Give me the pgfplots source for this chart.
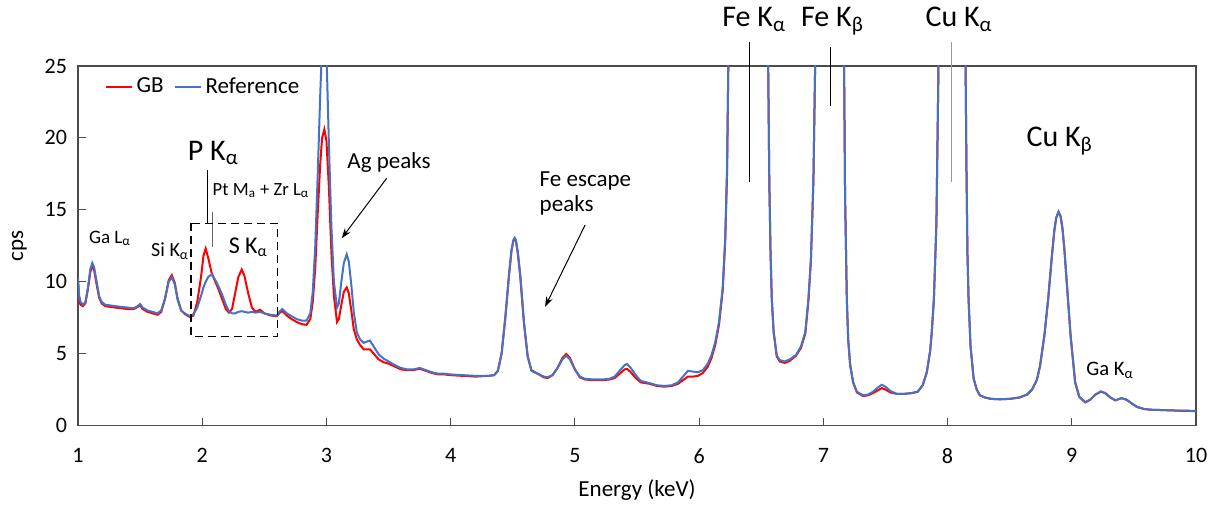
\documentclass[border=0pt]{standalone}
\usepackage{pgfplots}
\pgfplotsset{compat=1.18}
\usepackage{pgfplotstable}
\usepackage{fontspec}
\setmainfont{Carlito}
\usetikzlibrary{arrows.meta}
\definecolor{refblue}{HTML}{4472C4}

\pgfplotstableread{
E GB Ref
1.000 10.0 10.3
1.010 8.7 9.0
1.020 8.4 8.6
1.040 8.3 8.4
1.060 8.5 8.6
1.080 9.5 9.6
1.100 10.7 10.9
1.115 11.1 11.3
1.130 10.8 11.0
1.150 9.8 10.0
1.170 8.9 9.0
1.190 8.5 8.6
1.220 8.3 8.4
1.260 8.25 8.35
1.300 8.2 8.3
1.350 8.15 8.25
1.400 8.1 8.2
1.450 8.1 8.15
1.480 8.25 8.3
1.500 8.35 8.45
1.520 8.1 8.2
1.560 7.9 8.0
1.600 7.8 7.9
1.640 7.7 7.8
1.670 7.9 8.0
1.700 8.8 8.8
1.730 10.1 10.0
1.755 10.45 10.3
1.780 9.9 9.8
1.800 8.9 8.8
1.830 8.0 8.0
1.860 7.75 7.8
1.900 7.55 7.6
1.930 7.65 7.75
1.960 8.6 8.2
1.990 10.3 9.0
2.010 11.8 9.6
2.028 12.3 10.0
2.050 11.6 10.35
2.076 10.6 10.5
2.100 10.1 10.2
2.130 9.5 9.7
2.160 8.8 9.1
2.190 8.1 8.4
2.215 7.85 7.95
2.240 8.1 7.8
2.265 9.2 7.8
2.290 10.3 7.9
2.318 10.85 7.95
2.340 10.4 7.9
2.370 9.2 7.85
2.400 8.2 7.9
2.430 7.9 7.85
2.465 8.05 7.9
2.500 7.8 7.8
2.550 7.65 7.7
2.600 7.6 7.65
2.625 7.85 7.95
2.645 7.95 8.1
2.680 7.65 7.8
2.720 7.4 7.6
2.760 7.2 7.4
2.800 7.05 7.3
2.840 7.0 7.3
2.870 7.4 7.8
2.890 8.6 9.3
2.910 11.0 12.5
2.930 14.8 17.5
2.950 18.2 23.0
2.965 20.0 26.5
2.983 20.6 28.0
3.000 19.8 26.0
3.020 16.5 19.5
3.040 12.0 13.8
3.060 9.0 10.0
3.085 7.2 8.2
3.100 7.4 8.5
3.120 8.4 10.0
3.140 9.3 11.3
3.163 9.6 11.9
3.180 9.2 11.4
3.200 8.0 9.8
3.220 6.7 7.9
3.244 6.0 6.5
3.270 5.6 6.0
3.300 5.3 5.75
3.330 5.3 5.85
3.350 5.3 5.9
3.380 5.0 5.5
3.420 4.6 4.95
3.460 4.4 4.65
3.500 4.3 4.45
3.550 4.1 4.2
3.600 3.9 4.0
3.650 3.85 3.9
3.700 3.85 3.9
3.750 3.95 4.0
3.800 3.8 3.85
3.850 3.65 3.7
3.900 3.55 3.6
3.950 3.55 3.6
4.000 3.5 3.55
4.100 3.45 3.5
4.200 3.4 3.45
4.300 3.45 3.45
4.350 3.5 3.5
4.380 3.8 3.8
4.410 5.0 5.0
4.440 7.5 7.5
4.470 10.5 10.5
4.490 12.2 12.2
4.505 12.85 12.9
4.515 13.0 13.05
4.525 12.85 12.9
4.540 12.0 12.1
4.560 10.4 10.5
4.590 7.1 7.2
4.620 4.8 4.8
4.650 3.85 3.8
4.700 3.6 3.6
4.750 3.35 3.4
4.780 3.3 3.35
4.820 3.5 3.5
4.860 4.0 4.0
4.900 4.7 4.6
4.930 4.97 4.85
4.960 4.7 4.6
5.000 3.9 3.9
5.040 3.35 3.4
5.080 3.2 3.25
5.150 3.15 3.2
5.220 3.15 3.2
5.280 3.2 3.25
5.320 3.3 3.4
5.360 3.6 3.8
5.400 3.9 4.2
5.420 3.94 4.28
5.450 3.7 4.0
5.490 3.3 3.5
5.530 3.0 3.1
5.600 2.9 2.95
5.660 2.75 2.8
5.720 2.7 2.75
5.780 2.75 2.8
5.830 2.9 3.0
5.870 3.15 3.4
5.910 3.4 3.8
5.950 3.4 3.75
5.990 3.45 3.7
6.030 3.65 3.85
6.070 4.1 4.3
6.100 4.7 4.9
6.130 5.6 5.8
6.160 7.0 7.2
6.190 9.4 9.6
6.210 12.8 13.0
6.225 17.5 18.0
6.235 25.0 25.0
6.250 50 50
6.300 150 150
6.400 200 200
6.500 150 150
6.540 50 50
6.556 25 25
6.565 17 17
6.575 12 12
6.585 8.8 8.8
6.600 6.5 6.5
6.625 4.8 4.86
6.650 4.45 4.55
6.690 4.35 4.45
6.730 4.5 4.6
6.780 4.85 4.9
6.820 5.4 5.5
6.855 6.4 6.5
6.880 8.7 8.8
6.900 11.5 11.5
6.920 17.0 17.0
6.934 25 25
6.950 50 50
7.050 100 100
7.150 50 50
7.167 25 25
7.175 16 16
7.189 8.8 8.8
7.200 6.0 6.0
7.216 4.2 4.2
7.240 3.0 3.0
7.270 2.3 2.35
7.320 2.05 2.1
7.360 2.1 2.15
7.400 2.25 2.35
7.440 2.45 2.65
7.470 2.6 2.83
7.500 2.5 2.7
7.540 2.3 2.4
7.590 2.2 2.2
7.650 2.2 2.2
7.710 2.25 2.25
7.760 2.35 2.35
7.800 2.8 2.8
7.833 3.7 3.7
7.860 5.2 5.2
7.873 6.5 6.5
7.890 8.8 8.8
7.910 14 14
7.927 25 25
7.950 60 60
8.040 200 200
8.130 60 60
8.145 25 25
8.152 18 18
8.160 12 12
8.169 8.8 8.8
8.185 5.5 5.5
8.210 3.25 3.25
8.235 2.5 2.5
8.260 2.1 2.1
8.300 1.95 1.95
8.350 1.85 1.85
8.420 1.82 1.83
8.500 1.85 1.85
8.580 1.95 1.95
8.640 2.15 2.15
8.680 2.5 2.5
8.720 3.2 3.2
8.745 4.17 4.17
8.780 6.3 6.3
8.810 8.8 8.8
8.840 11.8 11.8
8.860 13.6 13.6
8.875 14.45 14.45
8.893 14.85 14.87
8.910 14.55 14.55
8.925 13.7 13.7
8.940 12.3 12.3
8.960 9.9 9.9
8.990 6.3 6.3
9.027 3.0 3.0
9.060 2.0 2.0
9.108 1.6 1.63
9.150 1.8 1.8
9.190 2.15 2.15
9.234 2.35 2.37
9.270 2.25 2.25
9.310 1.95 1.95
9.350 1.75 1.75
9.400 1.9 1.9
9.440 1.8 1.8
9.480 1.55 1.55
9.524 1.3 1.29
9.580 1.15 1.15
9.630 1.1 1.1
9.700 1.08 1.08
9.800 1.05 1.05
9.900 1.02 1.03
10.00 1.0 1.02
}\spec

\begin{document}
\begin{tikzpicture}
\path[use as bounding box] (-39pt,-41.25pt) rectangle (571pt,212.75pt);
\begin{axis}[
  at={(0pt,0pt)}, anchor=south west,
  scale only axis, width=559pt, height=179.75pt,
  xmin=1, xmax=10, ymin=0, ymax=25,
  xtick={1,2,...,10}, ytick={0,5,...,25},
  tick align=inside, major tick length=4pt,
  xtick pos=lower, ytick pos=left,
  axis line style={black!70, line width=0.6pt},
  tick style={black!70, line width=0.5pt},
  clip mode=individual,
  xlabel={Energy (keV)}, ylabel={cps},
  label style={font=\fontsize{11.5}{13}\selectfont},
  xlabel style={yshift=-1pt},
  ylabel style={yshift=2pt},
  tick label style={font=\fontsize{11}{13}\selectfont},
  /pgf/number format/assume math mode=true,
  xticklabel style={yshift=-8pt},
  yticklabel style={xshift=-2pt},
  legend style={at={(0.018,0.942)}, anchor=west, draw=none, fill=none,
    font=\fontsize{11.5}{13}\selectfont, legend columns=-1,
    /tikz/every even column/.append style={column sep=3pt}},
  legend image code/.code={\draw[#1, line width=1pt] (0pt,0pt) -- (13pt,0pt);},
]
\addplot[red, line width=1pt] table[x=E,y=GB]{\spec};
\addlegendentry{GB}
\addplot[refblue, line width=1pt] table[x=E,y=Ref]{\spec};
\addlegendentry{Reference}

\node[anchor=base, font=\fontsize{9.5}{11}\selectfont] at (axis cs:1.258,12.67) {Ga L\textsubscript{α}};
\node[anchor=base, font=\fontsize{10}{11}\selectfont] at (axis cs:1.741,11.74) {Si K\textsubscript{α}};
\node[anchor=base, font=\fontsize{15}{17}\selectfont] at (axis cs:2.089,18.46) {P K\textsubscript{α}};
\draw[black, line width=0.5pt] (axis cs:2.041,17.75) -- (axis cs:2.041,14.06);
\node[anchor=base, font=\fontsize{9.3}{11}\selectfont] at (axis cs:2.473,15.96) {Pt M\textsubscript{a} + Zr L\textsubscript{α}};
\draw[black!60, line width=0.5pt] (axis cs:2.085,14.87) -- (axis cs:2.085,12.43);
\draw[black, line width=0.75pt, dash pattern=on 4pt off 2.5pt] (axis cs:1.91,14.06) rectangle (axis cs:2.605,6.18);
\node[anchor=base, font=\fontsize{12}{13}\selectfont] at (axis cs:2.371,11.97) {S K\textsubscript{α}};
\node[anchor=base, font=\fontsize{11.5}{13}\selectfont] at (axis cs:3.504,17.88) {Ag peaks};
\draw[-{Stealth[length=5pt,width=3.5pt]}, line width=0.5pt] (axis cs:3.485,17.19) -- (axis cs:3.123,13.02);
\node[anchor=base west, font=\fontsize{11.5}{13}\selectfont] at (axis cs:4.66,16.6) {Fe escape};
\node[anchor=base west, font=\fontsize{11.5}{13}\selectfont] at (axis cs:4.66,14.87) {peaks};
\draw[-{Stealth[length=5pt,width=3.5pt]}, line width=0.5pt] (axis cs:5.082,13.94) -- (axis cs:4.76,8.26);
\node[anchor=base, font=\fontsize{15}{17}\selectfont] at (axis cs:6.443,27.73) {Fe K\textsubscript{α}};
\draw[black, line width=0.5pt] (axis cs:6.402,26.7) -- (axis cs:6.402,16.95);
\node[anchor=base, font=\fontsize{15}{17}\selectfont] at (axis cs:7.074,27.73) {Fe K\textsubscript{β}};
\draw[black, line width=0.5pt] (axis cs:7.055,26.3) -- (axis cs:7.055,22.2);
\node[anchor=base, font=\fontsize{15}{17}\selectfont] at (axis cs:8.093,27.73) {Cu K\textsubscript{α}};
\draw[black!40, line width=0.5pt] (axis cs:8.035,26.7) -- (axis cs:8.035,16.95);
\node[anchor=base, font=\fontsize{15}{17}\selectfont] at (axis cs:8.903,19.39) {Cu K\textsubscript{β}};
\node[anchor=base, font=\fontsize{10.3}{12}\selectfont] at (axis cs:9.309,3.51) {Ga K\textsubscript{α}};
\end{axis}
\end{tikzpicture}
\end{document}
